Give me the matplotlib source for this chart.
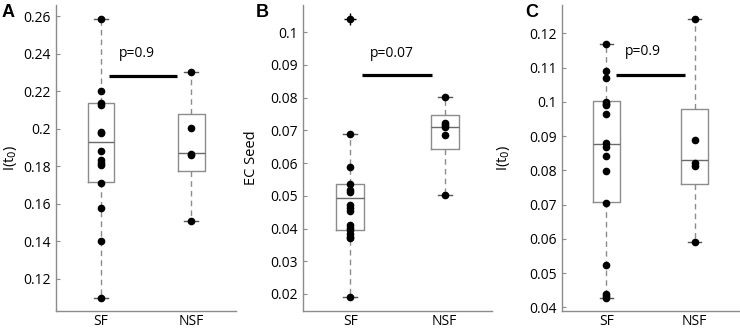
import matplotlib
matplotlib.use("Agg")
import matplotlib.pyplot as plt
from matplotlib.ticker import FuncFormatter
import numpy as np

plt.rcParams['font.family'] = ['Open Sans', 'DejaVu Sans']

categories = ["SF", "NSF"]

# Panel A: I(t0)
A_sf = [0.2584, 0.2202, 0.2135, 0.2128, 0.1985, 0.1975, 0.1883, 0.1832, 0.1816, 0.1808, 0.1713, 0.1579, 0.1402, 0.1100]
A_nsf = [0.2300, 0.2005, 0.1867, 0.1860, 0.1511]
A_q1 = [0.1714, 0.1777]
A_med = [0.1931, 0.1870]
A_q3 = [0.2136, 0.2078]
A_lo = [0.1100, 0.1511]
A_hi = [0.2584, 0.2300]
A_fliers = [[], []]
A_p = "p=0.9"
A_yticks = [0.12, 0.14, 0.16, 0.18, 0.20, 0.22, 0.24, 0.26]

# Panel B: EC Seed
B_sf = [0.1041, 0.0688, 0.0587, 0.0537, 0.0518, 0.0513, 0.0472, 0.0462, 0.0455, 0.0410, 0.0402, 0.0395, 0.0383, 0.0375, 0.0370, 0.0190]
B_nsf = [0.0802, 0.0723, 0.0716, 0.0710, 0.0686, 0.0503]
B_q1 = [0.0396, 0.0642]
B_med = [0.0493, 0.0709]
B_q3 = [0.0537, 0.0748]
B_lo = [0.0190, 0.0503]
B_hi = [0.0688, 0.0802]
B_fliers = [[0.1041], []]
B_p = "p=0.07"
B_yticks = [0.02, 0.03, 0.04, 0.05, 0.06, 0.07, 0.08, 0.09, 0.10]

# Panel C: I(t0)
C_sf = [0.1168, 0.1090, 0.1070, 0.1001, 0.0994, 0.0990, 0.0964, 0.0880, 0.0868, 0.0841, 0.0797, 0.0705, 0.0522, 0.0439, 0.0433, 0.0427]
C_nsf = [0.1243, 0.0889, 0.0822, 0.0814, 0.0591]
C_q1 = [0.0707, 0.0761]
C_med = [0.0877, 0.0830]
C_q3 = [0.1002, 0.0979]
C_lo = [0.0427, 0.0591]
C_hi = [0.1168, 0.1243]
C_fliers = [[], []]
C_p = "p=0.9"
C_yticks = [0.04, 0.05, 0.06, 0.07, 0.08, 0.09, 0.10, 0.11, 0.12]

fig = plt.figure(figsize=(7.4, 3.3), dpi=100)

panels = [
    dict(rect=[56/740, 1-311/330, 180/740, 306/330], sf=A_sf, nsf=A_nsf, q1=A_q1, med=A_med, q3=A_q3,
         lo=A_lo, hi=A_hi, fl=A_fliers, p=A_p, yt=A_yticks, ylim=(0.1029, 0.2659),
         bar=(1.09, 1.845, 0.2279), ptxt=(1.40, 0.2400), ylabel=r"I(t$_0$)", lx=-0.205, letter="A", letx=2),
    dict(rect=[303/740, 1-311/330, 189/740, 306/330], sf=B_sf, nsf=B_nsf, q1=B_q1, med=B_med, q3=B_q3,
         lo=B_lo, hi=B_hi, fl=B_fliers, p=B_p, yt=B_yticks, ylim=(0.0148, 0.1083),
         bar=(1.125, 1.868, 0.0869), ptxt=(1.44, 0.0935), ylabel="EC Seed", lx=-0.235, letter="B", letx=256),
    dict(rect=[562/740, 1-311/330, 177/740, 306/330], sf=C_sf, nsf=C_nsf, q1=C_q1, med=C_med, q3=C_q3,
         lo=C_lo, hi=C_hi, fl=C_fliers, p=C_p, yt=C_yticks, ylim=(0.0389, 0.1283),
         bar=(1.112, 1.888, 0.1079), ptxt=(1.41, 0.1148), ylabel=r"I(t$_0$)", lx=-0.284, letter="C", letx=525),
]

gray = "#8c8c8c"
for P in panels:
    ax = fig.add_axes(P["rect"])
    stats = []
    for i in range(2):
        stats.append(dict(q1=P["q1"][i], med=P["med"][i], q3=P["q3"][i],
                          whislo=P["lo"][i], whishi=P["hi"][i], fliers=P["fl"][i]))
    ax.bxp(stats, positions=[1, 2], widths=0.3, showfliers=True,
           boxprops=dict(color=gray, linewidth=1.0),
           medianprops=dict(color="#6a6a6a", linewidth=1.0),
           whiskerprops=dict(color=gray, linewidth=1.0, linestyle=(0, (4, 3))),
           capprops=dict(color="#555555", linewidth=1.0),
           flierprops=dict(marker="+", markeredgecolor="black", markersize=8, markeredgewidth=1.0))
    for i, vals in enumerate([P["sf"], P["nsf"]]):
        ax.plot(np.full(len(vals), i + 1), vals, 'o', color='black', markersize=4.5, zorder=5)
    x0, x1, yb = P["bar"]
    ax.plot([x0, x1], [yb, yb], color='black', linewidth=2.3, solid_capstyle='butt')
    ax.text(P["ptxt"][0], P["ptxt"][1], P["p"], ha='center', va='center', fontsize=10)
    ax.set_xlim(0.5, 2.5)
    ax.set_ylim(*P["ylim"])
    ax.set_xticks([1, 2])
    ax.set_xticklabels(categories, fontsize=10)
    ax.set_yticks(P["yt"])
    ax.yaxis.set_major_formatter(FuncFormatter(lambda v, pos: f"{v:g}"))
    ax.tick_params(axis='y', labelsize=10, direction='in', length=3, color=gray, pad=4)
    ax.tick_params(axis='x', labelsize=10, direction='in', length=0, pad=2)
    for s in ["top", "right"]:
        ax.spines[s].set_visible(False)
    for s in ["left", "bottom"]:
        ax.spines[s].set_color(gray)
        ax.spines[s].set_linewidth(1.0)
    ax.set_ylabel(P["ylabel"], fontsize=10.5)
    ax.yaxis.set_label_coords(P["lx"], 0.5)
    fig.text(P["letx"]/740, 1-4/330, P["letter"], fontsize=13, fontweight='bold',
             family=['Liberation Sans', 'DejaVu Sans'], ha='left', va='top')

fig.savefig("out.png", dpi=100)
